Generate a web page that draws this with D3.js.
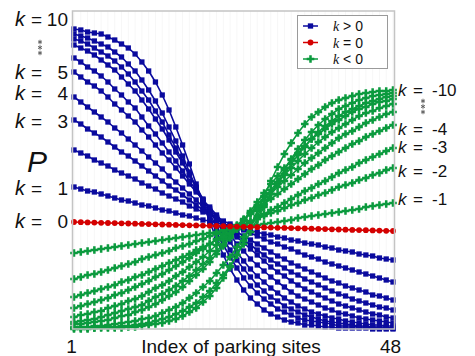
<!DOCTYPE html>
<html>
<head>
<meta charset="utf-8">
<script src="https://cdn.jsdelivr.net/npm/d3@7"></script>
<style>
  body { margin: 0; background: #fff; }
  text { font-family: "Liberation Sans", Arial, sans-serif; }
</style>
</head>
<body>
<svg id="chart" width="475" height="356"></svg>
<script>
// Parking-site choice probability P for each site index, one series per k.
const sites = d3.range(1, 49);

// k > 0 : probability falls with site index
const kPos1 = [14.2,14.0,13.8,13.7,13.5,13.3,13.1,12.9,12.8,12.6,12.4,12.3,12.1,11.9,11.8,11.6,11.4,11.3,11.1,10.9,10.8,10.6,10.5,10.3,10.1,10.0,9.8,9.7,9.5,9.4,9.2,9.1,8.9,8.8,8.6,8.5,8.4,8.2,8.1,7.9,7.8,7.7,7.5,7.4,7.3,7.1,7.0,6.9];
const kPos2 = [17.9,17.6,17.3,16.9,16.6,16.3,15.9,15.6,15.3,15.0,14.6,14.3,14.0,13.6,13.3,13.0,12.7,12.3,12.0,11.7,11.4,11.1,10.8,10.5,10.2,9.9,9.6,9.3,9.0,8.7,8.5,8.2,8.0,7.7,7.4,7.2,7.0,6.7,6.5,6.3,6.1,5.9,5.7,5.5,5.3,5.1,4.9,4.7];
const kPos3 = [20.9,20.5,20.0,19.6,19.2,18.7,18.2,17.7,17.3,16.8,16.3,15.8,15.3,14.8,14.3,13.9,13.4,12.9,12.4,11.9,11.5,11.0,10.6,10.1,9.7,9.3,8.9,8.5,8.1,7.7,7.3,7.0,6.6,6.3,6.0,5.7,5.4,5.1,4.8,4.6,4.3,4.1,3.9,3.7,3.4,3.3,3.1,2.9];
const kPos4 = [23.2,22.7,22.2,21.7,21.2,20.7,20.1,19.6,19.0,18.4,17.8,17.2,16.6,16.0,15.3,14.7,14.1,13.5,12.9,12.2,11.7,11.1,10.5,9.9,9.4,8.9,8.4,7.9,7.4,6.9,6.5,6.1,5.7,5.4,5.0,4.7,4.4,4.1,3.8,3.5,3.3,3.0,2.8,2.6,2.4,2.2,2.1,1.9];
const kPos5 = [25.7,25.2,24.7,24.3,23.8,23.2,22.5,21.9,21.3,20.7,19.9,19.2,18.4,17.6,16.9,16.1,15.3,14.5,13.7,12.9,12.2,11.4,10.7,9.9,9.2,8.6,8.0,7.4,6.8,6.2,5.7,5.3,4.8,4.4,4.0,3.7,3.4,3.1,2.8,2.5,2.3,2.1,1.9,1.7,1.5,1.4,1.2,1.1];
const kPos6 = [27.1,26.7,26.2,25.8,25.3,24.7,24.0,23.4,22.7,22.1,21.2,20.3,19.5,18.6,17.7,16.8,15.8,14.8,13.9,12.9,12.0,11.2,10.3,9.4,8.5,7.8,7.0,6.4,5.8,5.2,4.7,4.2,3.7,3.3,3.0,2.7,2.4,2.1,1.9,1.6,1.5,1.3,1.1,1.0,0.9,0.8,0.7,0.6];
const kPos7 = [28.4,28.1,27.8,27.4,26.9,26.4,25.9,25.2,24.5,23.8,22.9,22.0,21.0,20.0,18.9,17.7,16.6,15.4,14.2,13.0,11.8,10.7,9.7,8.7,7.7,6.8,6.0,5.3,4.7,4.1,3.6,3.1,2.7,2.3,2.0,1.7,1.5,1.3,1.1,1.0,0.8,0.7,0.6,0.5,0.4,0.4,0.3,0.3];
const kPos8 = [29.0,28.8,28.5,28.1,27.7,27.3,26.8,26.2,25.5,24.7,23.8,22.9,21.8,20.7,19.4,18.1,16.8,15.4,14.1,12.8,11.5,10.2,9.0,7.9,6.9,6.0,5.2,4.4,3.8,3.2,2.8,2.3,2.0,1.7,1.4,1.2,1.0,0.8,0.7,0.6,0.5,0.4,0.3,0.3,0.2,0.2,0.2,0.1];
const kPos9 = [29.5,29.3,29.1,28.8,28.5,28.2,27.7,27.2,26.5,25.8,24.9,23.9,22.8,21.6,20.2,18.8,17.3,15.7,14.1,12.6,11.1,9.7,8.4,7.2,6.1,5.1,4.3,3.6,3.0,2.5,2.0,1.7,1.4,1.1,0.9,0.8,0.7,0.6,0.5,0.3,0.3,0.3,0.2,0.2,0.1,0.1,0.1,0.1];
const kPos10 = [30.0,29.9,29.7,29.6,29.5,29.2,28.9,28.5,28.1,27.5,26.7,25.8,24.7,23.4,21.9,20.2,18.4,16.5,14.5,12.6,10.7,9.0,7.4,6.0,4.9,3.9,3.1,2.5,1.9,1.5,1.2,0.9,0.7,0.6,0.4,0.4,0.3,0.2,0.2,0.1,0.1,0.1,0.1,0.1,0.0,0.0,0.0,0.0];

// k = 0
const kZero = [10.70,10.68,10.66,10.64,10.62,10.60,10.59,10.57,10.55,10.53,10.51,10.49,10.47,10.45,10.43,10.41,10.39,10.37,10.36,10.34,10.32,10.30,10.28,10.26,10.24,10.22,10.20,10.18,10.16,10.14,10.12,10.11,10.09,10.07,10.05,10.03,10.01,9.99,9.97,9.95,9.93,9.91,9.89,9.88,9.86,9.84,9.82,9.80];

// k < 0 : probability rises with site index
const kNeg1 = [7.6,7.7,7.8,7.9,8.0,8.1,8.2,8.3,8.4,8.5,8.6,8.7,8.8,8.9,9.0,9.1,9.2,9.3,9.4,9.5,9.6,9.7,9.9,10.0,10.1,10.2,10.3,10.4,10.5,10.6,10.7,10.8,10.9,11.1,11.2,11.3,11.4,11.5,11.6,11.7,11.8,11.9,12.0,12.2,12.3,12.4,12.5,12.6];
const kNeg2 = [5.0,5.2,5.4,5.5,5.7,5.9,6.1,6.3,6.5,6.7,7.0,7.2,7.4,7.6,7.8,8.1,8.3,8.5,8.8,9.0,9.3,9.5,9.8,10.0,10.3,10.5,10.8,11.0,11.3,11.6,11.8,12.1,12.4,12.6,12.9,13.1,13.4,13.6,13.9,14.2,14.4,14.6,14.9,15.1,15.4,15.6,15.9,16.1];
const kNeg3 = [3.2,3.4,3.6,3.8,4.0,4.2,4.4,4.7,4.9,5.2,5.4,5.7,6.0,6.3,6.6,6.9,7.2,7.5,7.9,8.2,8.5,8.9,9.2,9.6,10.0,10.3,10.7,11.1,11.5,11.9,12.2,12.6,13.0,13.4,13.8,14.1,14.5,14.8,15.2,15.6,15.9,16.2,16.6,16.9,17.2,17.5,17.8,18.1];
const kNeg4 = [2.1,2.3,2.5,2.7,2.9,3.1,3.4,3.6,3.9,4.2,4.5,4.8,5.2,5.5,5.9,6.3,6.7,7.1,7.6,8.0,8.5,9.0,9.5,10.0,10.4,11.0,11.5,12.0,12.5,13.0,13.5,14.0,14.5,15.0,15.5,16.0,16.4,16.9,17.3,17.7,18.1,18.5,18.8,19.2,19.5,19.8,20.1,20.4];
const kNeg5 = [1.2,1.4,1.5,1.7,1.8,2.1,2.3,2.5,2.8,3.0,3.3,3.7,4.1,4.4,4.8,5.3,5.7,6.2,6.7,7.2,7.8,8.4,9.0,9.6,10.3,10.9,11.6,12.2,12.9,13.5,14.2,14.8,15.4,16.0,16.6,17.1,17.6,18.1,18.6,19.1,19.5,19.8,20.2,20.6,20.9,21.2,21.5,21.7];
const kNeg6 = [0.7,0.8,0.9,1.0,1.2,1.4,1.6,1.8,2.0,2.2,2.4,2.8,3.2,3.5,3.9,4.3,4.8,5.3,5.9,6.5,7.1,7.8,8.5,9.3,10.0,10.8,11.6,12.4,13.2,13.9,14.7,15.4,16.1,16.8,17.5,18.1,18.7,19.2,19.7,20.1,20.5,20.9,21.3,21.6,21.8,22.1,22.3,22.5];
const kNeg7 = [0.5,0.5,0.6,0.7,0.8,0.9,1.1,1.3,1.4,1.7,1.9,2.2,2.5,2.9,3.3,3.7,4.2,4.8,5.4,6.0,6.7,7.5,8.3,9.1,10.0,10.9,11.8,12.7,13.6,14.5,15.3,16.1,16.9,17.6,18.3,19.0,19.5,20.0,20.5,20.9,21.3,21.7,22.0,22.2,22.5,22.7,22.8,23.0];
const kNeg8 = [0.2,0.2,0.2,0.3,0.3,0.4,0.5,0.6,0.7,0.8,1.0,1.1,1.3,1.6,1.9,2.2,2.6,3.1,3.6,4.2,4.8,5.6,6.4,7.2,8.2,9.2,10.2,11.3,12.4,13.5,14.5,15.5,16.5,17.4,18.2,19.0,19.7,20.3,20.8,21.3,21.7,22.0,22.3,22.6,22.8,23.0,23.2,23.3];
const kNeg9 = [0.1,0.1,0.1,0.1,0.2,0.2,0.2,0.3,0.3,0.4,0.5,0.6,0.8,1.0,1.2,1.5,1.8,2.2,2.6,3.2,3.8,4.6,5.4,6.3,7.4,8.5,9.7,11.0,12.2,13.5,14.7,15.9,17.0,18.0,18.9,19.7,20.4,21.0,21.5,22.0,22.3,22.6,22.9,23.1,23.3,23.4,23.5,23.6];
const kNeg10 = [0.0,0.0,0.0,0.1,0.1,0.1,0.1,0.1,0.2,0.2,0.3,0.4,0.5,0.6,0.8,1.0,1.3,1.7,2.1,2.7,3.3,4.1,5.1,6.2,7.4,8.8,10.3,11.8,13.3,14.8,16.2,17.5,18.6,19.6,20.5,21.2,21.7,22.2,22.6,22.9,23.1,23.3,23.5,23.6,23.7,23.8,23.8,23.9];

const posSeries = [kPos10, kPos9, kPos8, kPos7, kPos6, kPos5, kPos4, kPos3, kPos2, kPos1];
const negSeries = [kNeg10, kNeg9, kNeg8, kNeg7, kNeg6, kNeg5, kNeg4, kNeg3, kNeg2, kNeg1];

const xTickValues = [1, 48];
const leftLabelValues = ["10", "5", "4", "3", "1", "0"];
const rightLabelValues = ["-10", "-4", "-3", "-2", "-1"];
const legendLabels = [">", "=", "<"];

// ---- layout ----
const W = 475, H = 356;
const plot = { left: 72.5, right: 394.5, top: 11, bottom: 329 };
const colors = { pos: "#0a0a9e", zero: "#d40000", neg: "#0b9a3e" };

const svg = d3.select("#chart");
svg.append("rect").attr("width", W).attr("height", H).attr("fill", "#fff");

const x = d3.scaleLinear().domain([1, 48]).range([74, 393]);
const y = d3.scaleLinear().domain([0, 31.8]).range([plot.bottom, plot.top]);

// very faint vertical grid at every site
svg.append("g")
  .selectAll("line")
  .data(sites)
  .join("line")
  .attr("x1", d => x(d)).attr("x2", d => x(d))
  .attr("y1", plot.top).attr("y2", plot.bottom)
  .attr("stroke", "#f7f7f7").attr("stroke-width", 1);

const line = d3.line().x((d, i) => x(sites[i])).y(d => y(d));

const squareSym = d3.symbol().type(d3.symbolSquare).size(28);
const circleSym = d3.symbol().type(d3.symbolCircle).size(26);
const crossSym = d3.symbol().type(d3.symbolCross).size(32);

function drawSeries(values, color, sym) {
  const g = svg.append("g");
  g.append("path")
    .attr("d", line(values))
    .attr("fill", "none")
    .attr("stroke", color)
    .attr("stroke-width", 1.6);
  g.selectAll("path.m")
    .data(values)
    .join("path")
    .attr("class", "m")
    .attr("d", sym())
    .attr("transform", (d, i) => `translate(${x(sites[i])},${y(d)})`)
    .attr("fill", color);
}

posSeries.forEach(s => drawSeries(s, colors.pos, squareSym));
negSeries.forEach(s => drawSeries(s, colors.neg, crossSym));
drawSeries(kZero, colors.zero, circleSym);

// frame
svg.append("rect")
  .attr("x", plot.left).attr("y", plot.top)
  .attr("width", plot.right - plot.left).attr("height", plot.bottom - plot.top)
  .attr("fill", "none").attr("stroke", "#c4c4c4").attr("stroke-width", 1.5);

// x axis: only the first and last site are labelled
const xAxis = d3.axisBottom(x).tickValues(xTickValues).tickSize(0).tickFormat(d3.format("d"));
const xg = svg.append("g").attr("transform", `translate(0,${plot.bottom})`).call(xAxis);
xg.select(".domain").remove();
xg.selectAll("text")
  .attr("font-family", "'Liberation Sans', Arial, sans-serif")
  .attr("font-size", 19).attr("fill", "#111")
  .attr("dy", 0).attr("y", 23.5).attr("dx", -3);

svg.append("text")
  .attr("x", 231).attr("y", 352.5)
  .attr("text-anchor", "middle")
  .attr("font-size", 19).attr("fill", "#111")
  .text("Index of parking sites");

// y label P
svg.append("text")
  .attr("x", 27).attr("y", 172)
  .attr("font-family", "'Liberation Serif', 'Times New Roman', serif")
  .attr("font-style", "italic").attr("font-size", 30).attr("fill", "#111")
  .text("P");

// k labels at the left (k >= 0) and right (k < 0) ends of the curves
const leftBaselines = [26, 79, 100, 128, 195, 228];
const rightBaselines = [96, 134.5, 153, 177, 205];

function kLabel(g, xk, xEq, xNum, anchor, base, num, size, kSize) {
  g.append("text").attr("x", xk).attr("y", base)
    .attr("font-family", "'Liberation Serif', 'Times New Roman', serif")
    .attr("font-style", "italic").attr("font-size", kSize).attr("fill", "#111").text("k");
  g.append("text").attr("x", xEq).attr("y", base)
    .attr("font-size", size).attr("fill", "#111").text("=");
  g.append("text").attr("x", xNum).attr("y", base).attr("text-anchor", anchor)
    .attr("font-size", size).attr("fill", "#111").text(num);
}
const lab = svg.append("g");
leftLabelValues.forEach((v, i) => kLabel(lab, 15, 31, 68, "end", leftBaselines[i], v, 19, 20));
rightLabelValues.forEach((v, i) => kLabel(lab, 398, 413, 432, "start", rightBaselines[i], v, 17, 17));

// vertical ellipses of asterisks
const ast = d3.symbol().type(d3.symbolAsterisk).size(14);
[[40, 42], [40, 47.5], [40, 53], [423, 101], [423, 106.5], [423, 112]].forEach(p => {
  svg.append("path").attr("d", ast())
    .attr("transform", `translate(${p[0]},${p[1]})`)
    .attr("fill", "none").attr("stroke", "#555").attr("stroke-width", 0.9);
});

// legend
const lg = svg.append("g");
lg.append("rect").attr("x", 297.5).attr("y", 15.5).attr("width", 90).attr("height", 53)
  .attr("fill", "#fff").attr("stroke", "#9a9a9a").attr("stroke-width", 1);
const legendRows = [
  { color: colors.pos, sym: squareSym, rel: legendLabels[0] },
  { color: colors.zero, sym: circleSym, rel: legendLabels[1] },
  { color: colors.neg, sym: crossSym, rel: legendLabels[2] }
];
legendRows.forEach((r, i) => {
  const cy = 26 + i * 16.5;
  lg.append("line").attr("x1", 303).attr("x2", 318).attr("y1", cy).attr("y2", cy)
    .attr("stroke", r.color).attr("stroke-width", 1.5);
  lg.append("path").attr("d", r.sym()).attr("transform", `translate(310.5,${cy})`).attr("fill", r.color);
  const t = lg.append("text").attr("x", 333).attr("y", cy + 5).attr("font-size", 14).attr("fill", "#111");
  t.append("tspan").attr("font-family", "'Liberation Serif', 'Times New Roman', serif")
    .attr("font-style", "italic").text("k");
  t.append("tspan").text(` ${r.rel} 0`);
});
</script>
</body>
</html>
